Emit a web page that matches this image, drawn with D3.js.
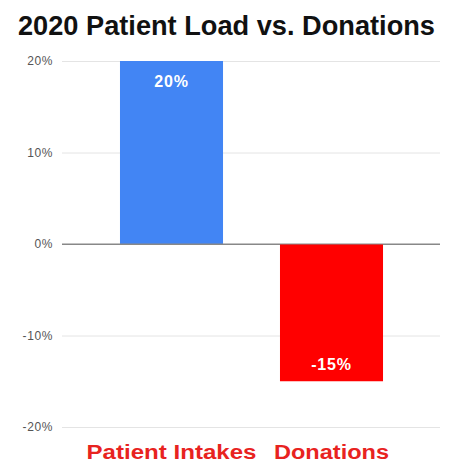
<!DOCTYPE html>
<html><head><meta charset="utf-8">
<script src="https://cdn.jsdelivr.net/npm/d3@7"></script>
<style>body{margin:0;background:#fff;}</style>
</head><body>
<svg id="c" width="451" height="463"></svg>
<script>
const categories = ["Patient Intakes", "Donations"];
const values = [0.20, -0.15];
const tickValues = [0.2, 0.1, 0, -0.1, -0.2];
const barColors = ["#4285f4", "#ff0000"];
const title = "2020 Patient Load vs. Donations";

const svg = d3.select("#c");
const font = "'Liberation Sans', Arial, sans-serif";
const fmt = d => d3.format(".0%")(d).replace("\u2212", "-");
const y = d3.scaleLinear().domain([-0.2, 0.2]).range([427, 61]);
const x = d3.scaleBand().domain(categories).range([91.5, 411.5]).paddingInner(0.356).paddingOuter(0.178);
const left = 62, right = 440;

svg.append("text").attr("x", 226.5).attr("y", 35).attr("text-anchor", "middle")
  .attr("font-family", font).attr("font-weight", "bold").attr("font-size", 27).attr("fill", "#111")
  .attr("textLength", 417).attr("lengthAdjust", "spacingAndGlyphs").text(title);

const yAxis = d3.axisLeft(y).tickValues(tickValues).tickFormat(fmt).tickSize(-(right - left)).tickPadding(9);
const ga = svg.append("g").attr("transform", `translate(${left},0)`).call(yAxis);
ga.select(".domain").remove();
ga.selectAll(".tick line").attr("stroke", d => d === 0 ? "#888" : "#e4e4e4").attr("stroke-width", 1);
ga.selectAll(".tick text").attr("font-family", font).attr("font-size", 12).attr("fill", "#555")
  .attr("letter-spacing", 0.6);

svg.selectAll("rect.bar").data(values).enter().append("rect").attr("class", "bar")
  .attr("x", (d, i) => x(categories[i])).attr("width", x.bandwidth())
  .attr("y", d => y(Math.max(0, d))).attr("height", d => Math.abs(y(d) - y(0)))
  .attr("fill", (d, i) => barColors[i]);

svg.append("line").attr("x1", left).attr("x2", right).attr("y1", y(0)).attr("y2", y(0)).attr("stroke", "#888").attr("stroke-width", 1.2);

svg.selectAll("text.val").data(values).enter().append("text").attr("class", "val")
  .attr("x", (d, i) => x(categories[i]) + x.bandwidth() / 2)
  .attr("y", d => d >= 0 ? y(d) + 26 : y(d) - 11)
  .attr("text-anchor", "middle").attr("font-family", font).attr("font-weight", "bold").attr("font-size", 16)
  .attr("letter-spacing", 0.8).attr("fill", "#fff").text(fmt);

const catW = [170, 115];
svg.selectAll("text.cat").data(categories).enter().append("text").attr("class", "cat")
  .attr("x", d => x(d) + x.bandwidth() / 2).attr("y", 459).attr("text-anchor", "middle")
  .attr("font-family", font).attr("font-weight", "bold").attr("font-size", 20).attr("fill", "#e8231f")
  .attr("textLength", (d, i) => catW[i]).attr("lengthAdjust", "spacingAndGlyphs").text(d => d);
</script>
</body></html>
